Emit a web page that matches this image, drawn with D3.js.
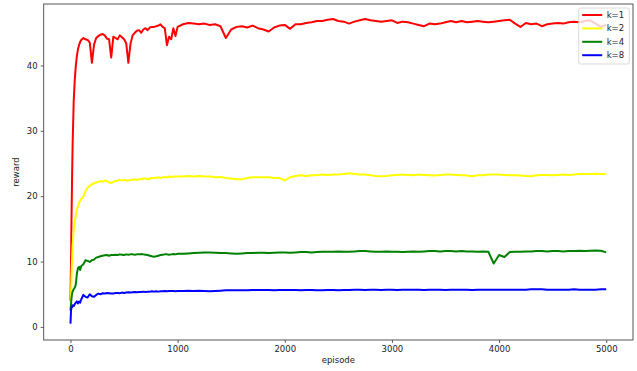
<!DOCTYPE html>
<html>
<head>
<meta charset="utf-8">
<script src="https://cdn.jsdelivr.net/npm/d3@7"></script>
<style>
  html, body { margin: 0; padding: 0; background: #fff; }
  svg { display: block; font-family: "DejaVu Sans", sans-serif; }
</style>
</head>
<body>
<svg id="chart" width="637" height="371"></svg>
<script>
// Episode grid: dense at the start, coarser once training settles
const episodes = [0, 5, 10, 15, 20, 30, 40, 50, 60, 70, 80, 90, 100]
  .concat(d3.range(120, 1001, 20))
  .concat(d3.range(1050, 5001, 50));

const seriesNames = ["k=1", "k=2", "k=4", "k=8"];
const seriesColors = ["#ff0000", "#ffff00", "#008000", "#0000ff"];

const rewardK1 = [
  4, 10, 17, 23, 28, 34.5, 37.8, 40, 41.5, 42.5, 43.1, 43.6, 43.9,
  // 120 .. 1000
  44.2, 44.0, 43.9, 43.5, 40.4, 43.2, 44.2, 44.5, 44.7, 44.8,
  44.6, 44.1, 44.0, 41.2, 44.4, 44.2, 44.0, 44.6, 44.3, 44.0,
  43.4, 40.4, 43.3, 44.6, 45.0, 45.3, 45.4, 45.0, 45.5, 45.7,
  45.4, 45.8, 45.9, 45.9, 46.0, 46.1, 46.3, 45.9, 45.7, 43.1,
  44.4, 44.0, 45.7, 44.5, 45.9,
  // 1050 .. 5000
  46.3, 46.5, 46.4, 46.3, 46.4, 46.2, 46.3, 46.0, 44.2, 45.5,
  45.9, 46.0, 45.8, 46.1, 45.7, 45.5, 45.2, 45.8, 46.1, 46.2,
  45.6, 46.3, 46.3, 46.5, 46.6, 46.8, 46.8, 47.0, 47.1, 46.8,
  46.7, 46.4, 46.7, 46.9, 47.1, 46.9, 46.8, 46.7, 46.8, 46.9,
  46.5, 46.7, 46.6, 46.4, 46.2, 46.0, 46.4, 46.3, 46.4, 46.6,
  46.8, 46.6, 46.8, 46.6, 46.7, 46.8, 46.7, 46.6, 46.7, 46.8,
  46.9, 47.0, 46.4, 45.9, 46.5, 46.3, 46.4, 46.0, 46.3, 46.4,
  46.5, 46.4, 46.6, 46.7, 46.6, 46.8, 46.9, 46.4, 45.9, 46.2
];

const rewardK2 = [
  2.5, 5, 8, 10.5, 12.5, 14.8, 16, 17.2, 17.9, 18.5, 19.0, 19.3, 19.6,
  19.9, 20.8, 21.3, 21.6, 21.8, 22.0, 22.1, 22.2, 22.3, 22.2,
  22.4, 22.3, 22.1, 22.0, 22.2, 22.3, 22.4, 22.5, 22.4, 22.5,
  22.4, 22.4, 22.5, 22.5, 22.6, 22.5, 22.6, 22.6, 22.7, 22.7,
  22.6, 22.7, 22.8, 22.8, 22.8, 22.9, 22.8, 22.9, 22.9, 22.9,
  23.0, 22.9, 23.0, 23.0, 23.0,
  23.0, 23.1, 23.0, 23.1, 23.0, 23.0, 22.9, 22.95, 22.8, 22.7,
  22.6, 22.6, 22.8, 22.9, 22.9, 22.9, 22.9, 22.8, 22.8, 22.4,
  22.9, 23.1, 23.2, 23.1, 23.2, 23.2, 23.3, 23.25, 23.3, 23.3,
  23.4, 23.5, 23.4, 23.3, 23.3, 23.2, 23.1, 23.05, 23.1, 23.2,
  23.25, 23.3, 23.25, 23.2, 23.3, 23.25, 23.2, 23.15, 23.25, 23.3,
  23.3, 23.25, 23.2, 23.15, 23.05, 23.2, 23.2, 23.3, 23.3, 23.3,
  23.25, 23.2, 23.2, 23.15, 23.1, 23.05, 23.2, 23.25, 23.25, 23.2,
  23.25, 23.3, 23.25, 23.3, 23.4, 23.4, 23.4, 23.45, 23.4, 23.4
];

const rewardK4 = [
  2.5, 3.5, 4.5, 5.1, 5.4, 5.8, 6.0, 6.5, 8.2, 9.0, 9.2, 8.7, 9.3,
  9.6, 10.2, 10.1, 9.95, 10.2, 10.3, 10.6, 10.7, 10.8, 10.9,
  10.95, 11.0, 10.9, 11.0, 11.0, 11.05, 11.0, 11.1, 11.05, 11.0,
  11.1, 11.05, 11.1, 11.1, 11.05, 11.1, 11.1, 11.15, 11.1, 11.05,
  11.0, 10.9, 10.8, 10.75, 10.8, 10.9, 11.0, 11.05, 11.1, 11.1,
  11.05, 11.1, 11.15, 11.1, 11.2,
  11.2, 11.25, 11.3, 11.35, 11.4, 11.4, 11.35, 11.3, 11.3, 11.25,
  11.2, 11.25, 11.3, 11.3, 11.35, 11.35, 11.3, 11.35, 11.4, 11.4,
  11.35, 11.4, 11.45, 11.45, 11.4, 11.45, 11.5, 11.5, 11.5, 11.55,
  11.5, 11.5, 11.55, 11.6, 11.6, 11.55, 11.5, 11.5, 11.55, 11.5,
  11.5, 11.45, 11.5, 11.55, 11.5, 11.55, 11.6, 11.6, 11.55, 11.6,
  11.6, 11.55, 11.6, 11.55, 11.55, 11.5, 11.55, 11.5, 9.7, 11.0,
  10.7, 11.45, 11.5, 11.5, 11.55, 11.55, 11.6, 11.6, 11.55, 11.6,
  11.6, 11.55, 11.6, 11.6, 11.65, 11.6, 11.65, 11.7, 11.65, 11.4
];

const rewardK8 = [
  0.5, 2.5, 3.1, 3.0, 3.3, 3.2, 3.5, 3.7, 3.9, 3.6, 3.9, 3.7, 4.2,
  4.9, 4.6, 4.5, 5.0, 4.7, 4.6, 4.9, 5.1, 5.0, 5.15,
  5.1, 5.2, 5.15, 5.1, 5.1, 5.2, 5.2, 5.15, 5.25, 5.2,
  5.25, 5.3, 5.25, 5.3, 5.35, 5.3, 5.35, 5.35, 5.4, 5.35,
  5.4, 5.4, 5.45, 5.4, 5.45, 5.4, 5.45, 5.45, 5.5, 5.45,
  5.5, 5.5, 5.5, 5.45, 5.5,
  5.5, 5.55, 5.5, 5.55, 5.5, 5.45, 5.5, 5.55, 5.6, 5.6,
  5.6, 5.6, 5.6, 5.65, 5.65, 5.65, 5.65, 5.6, 5.65, 5.65,
  5.65, 5.65, 5.6, 5.65, 5.65, 5.6, 5.6, 5.65, 5.65, 5.6,
  5.65, 5.65, 5.7, 5.7, 5.65, 5.7, 5.7, 5.65, 5.7, 5.7,
  5.65, 5.7, 5.7, 5.7, 5.7, 5.65, 5.7, 5.7, 5.7, 5.65,
  5.7, 5.7, 5.7, 5.7, 5.65, 5.7, 5.7, 5.7, 5.7, 5.7,
  5.7, 5.7, 5.7, 5.7, 5.7, 5.75, 5.75, 5.75, 5.7, 5.7,
  5.7, 5.7, 5.7, 5.75, 5.7, 5.7, 5.7, 5.7, 5.75, 5.75
];

const xTicks = [0, 1000, 2000, 3000, 4000, 5000];
const yTicks = [0, 10, 20, 30, 40];

const allSeries = [rewardK1, rewardK2, rewardK4, rewardK8];

const svg = d3.select("#chart");
const margin = { left: 43.7, right: 4, top: 4, bottom: 31 };
const W = 637, H = 371;
const plotW = W - margin.left - margin.right;
const plotH = H - margin.top - margin.bottom;

const x = d3.scaleLinear().domain([-250, 5250]).range([0, plotW]);
const y = d3.scaleLinear().domain([-2.0, 49.4]).range([plotH, 0]);

const g = svg.append("g").attr("transform", `translate(${margin.left},${margin.top})`);

g.append("defs").append("clipPath").attr("id", "plotClip")
  .append("rect").attr("width", plotW).attr("height", plotH);

// Reward curves
const line = d3.line()
  .x((d, i) => x(episodes[i]))
  .y(d => y(d));

const lines = g.append("g").attr("clip-path", "url(#plotClip)");
allSeries.forEach((s, i) => {
  lines.append("path")
    .datum(s)
    .attr("fill", "none")
    .attr("stroke", seriesColors[i])
    .attr("stroke-width", 2)
    .attr("stroke-linejoin", "round")
    .attr("d", line);
});

// Axes
const xAxis = d3.axisBottom(x).tickValues(xTicks).tickFormat(d3.format("d"))
  .tickSize(3).tickPadding(3);
const yAxis = d3.axisLeft(y).tickValues(yTicks).tickFormat(d3.format("d"))
  .tickSize(3).tickPadding(3);

const gx = g.append("g").attr("transform", `translate(0,${plotH})`).call(xAxis);
const gy = g.append("g").call(yAxis);
[gx, gy].forEach(a => {
  a.select(".domain").remove();
  a.selectAll(".tick line").attr("stroke", "#333").attr("stroke-width", 0.8);
  a.selectAll(".tick text").attr("fill", "#222").attr("font-size", 8.5)
    .attr("font-family", "DejaVu Sans, sans-serif");
});

// Frame
g.append("rect")
  .attr("width", plotW).attr("height", plotH)
  .attr("fill", "none").attr("stroke", "#444").attr("stroke-width", 0.9);

// Axis titles
svg.append("text")
  .attr("x", margin.left + x(2500)).attr("y", 363)
  .attr("text-anchor", "middle").attr("font-size", 8.5).attr("fill", "#222")
  .text("episode");
svg.append("text")
  .attr("transform", `translate(19,${margin.top + plotH / 2}) rotate(-90)`)
  .attr("text-anchor", "middle").attr("font-size", 8.5).attr("fill", "#222")
  .text("reward");

// Legend
const lg = svg.append("g").attr("transform", "translate(578.7,8)");
lg.append("rect")
  .attr("width", 50.6).attr("height", 56).attr("rx", 2)
  .attr("fill", "#fff").attr("fill-opacity", 0.8)
  .attr("stroke", "#d0d0d0").attr("stroke-width", 0.8);
seriesNames.forEach((name, i) => {
  const yy = 7 + i * 13.4;
  lg.append("line")
    .attr("x1", 3.5).attr("x2", 23.5).attr("y1", yy).attr("y2", yy)
    .attr("stroke", seriesColors[i]).attr("stroke-width", 2);
  lg.append("text")
    .attr("x", 28).attr("y", yy).attr("dy", "0.35em")
    .attr("font-size", 8.5).attr("fill", "#222")
    .text(name);
});
</script>
</body>
</html>
